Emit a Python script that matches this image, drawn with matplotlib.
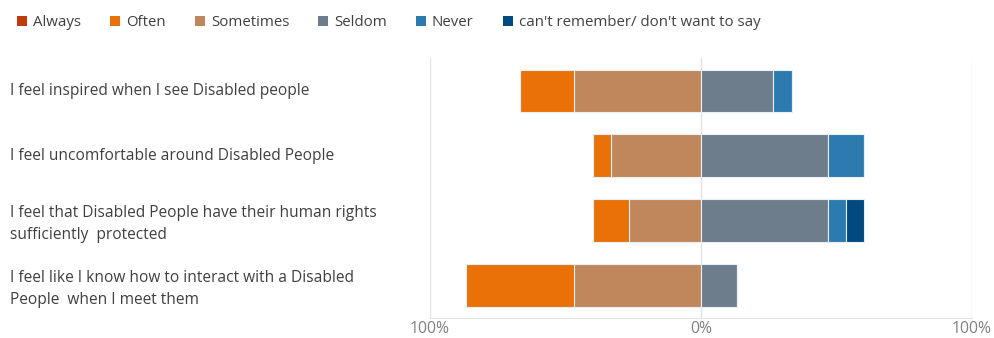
import matplotlib
matplotlib.use("Agg")
import matplotlib.pyplot as plt
from matplotlib.patches import Patch
from matplotlib.transforms import blended_transform_factory
import numpy as np

plt.rcParams['font.family'] = ['Open Sans', 'DejaVu Sans']

categories = [
    "I feel inspired when I see Disabled people",
    "I feel uncomfortable around Disabled People",
    "I feel that Disabled People have their human rights\nsufficiently  protected",
    "I feel like I know how to interact with a Disabled\nPeople  when I meet them",
]
always = [0.0, 0.0, 0.0, 0.0]
often = [20.0, 6.7, 13.3, 40.0]
sometimes = [46.7, 33.3, 26.7, 46.7]
seldom = [26.7, 46.7, 46.7, 13.3]
never = [6.7, 13.3, 6.7, 0.0]
cant_remember = [0.0, 0.0, 6.7, 0.0]
series_names = ["Always", "Often", "Sometimes", "Seldom", "Never",
                "can't remember/ don't want to say"]
colors = ["#C23B0C", "#EA7008", "#C1875C", "#6E7D8C", "#2C7AB0", "#014A80"]
xticks = [-100, 0, 100]
xticklabels = ["100%", "0%", "100%"]

fig = plt.figure(figsize=(9.95, 3.38), dpi=100)
ax = fig.add_axes([0.432, 0.059, 0.545, 0.769])

y = np.arange(len(categories))
h = 0.65
ec = "#e8eef5"
lw = 0.8

# left side (negative): sometimes closest to zero, then often, then always
s = np.array(sometimes)
o = np.array(often)
a = np.array(always)
ax.barh(y, -s, height=h, color=colors[2], edgecolor=ec, linewidth=lw, zorder=3)
ax.barh(y, -o, left=-s, height=h, color=colors[1], edgecolor=ec, linewidth=lw, zorder=3)
ax.barh(y, -a, left=-(s + o), height=h, color=colors[0], edgecolor=ec, linewidth=lw, zorder=3)

# right side
sd = np.array(seldom)
nv = np.array(never)
cr = np.array(cant_remember)
ax.barh(y, sd, height=h, color=colors[3], edgecolor=ec, linewidth=lw, zorder=3)
ax.barh(y, nv, left=sd, height=h, color=colors[4], edgecolor=ec, linewidth=lw, zorder=3)
ax.barh(y, cr, left=sd + nv, height=h, color=colors[5], edgecolor=ec, linewidth=lw, zorder=3)

ax.set_xlim(-100, 100)
ax.set_ylim(len(categories) - 0.5, -0.5)
ax.set_xticks(xticks)
ax.set_xticklabels(xticklabels, color="#808080", fontsize=11.3)
ax.tick_params(axis='x', length=0, pad=2)
ax.set_yticks([])
ax.grid(axis='x', color="#e3e3e3", linewidth=1, zorder=0)
for sp in ["top", "right", "left"]:
    ax.spines[sp].set_visible(False)
ax.spines["bottom"].set_color("#e3e3e3")

trans = blended_transform_factory(fig.transFigure, ax.transData)
for yi, lab in zip(y, categories):
    ax.text(0.010, yi + (0.06 if "\n" in lab else 0), lab, transform=trans,
            ha="left", va="center", fontsize=11.2, color="#404040",
            linespacing=1.5)

handles = [Patch(facecolor=c, edgecolor="none") for c in colors]
fig.legend(handles, series_names, loc="upper left", bbox_to_anchor=(0.004, 0.995),
           ncol=6, frameon=False, fontsize=10.8, handlelength=0.65,
           handleheight=0.65, handletextpad=0.4, columnspacing=1.95,
           labelcolor="#404040")

fig.savefig("out.png", dpi=100)
